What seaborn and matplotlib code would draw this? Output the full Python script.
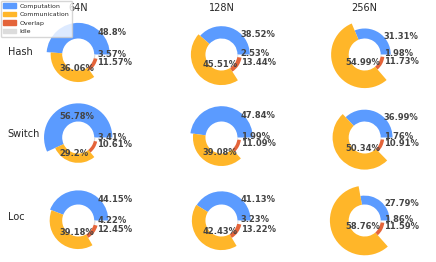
import numpy as np
import matplotlib
matplotlib.use("Agg")
import matplotlib.pyplot as plt
import seaborn as sns
from matplotlib.patches import Patch

# categories / colors
categories = ["Computation", "Communication", "Overlap", "Idle"]
colors = ["#5B9BFF", "#FFB629", "#E4643A", "#DCDCDC"]

strategies = ["Hash", "Switch", "Loc"]
scales = ["64N", "128N", "256N"]

# percentage breakdown per scale: computation, communication, overlap, idle
hash_vals = [[48.8, 36.06, 11.57, 3.57],
             [38.52, 45.51, 13.44, 2.53],
             [31.31, 54.99, 11.73, 1.98]]
switch_vals = [[56.78, 29.2, 10.61, 3.41],
               [47.84, 39.08, 11.09, 1.99],
               [36.99, 50.34, 10.91, 1.76]]
loc_vals = [[44.15, 39.18, 12.45, 4.22],
            [41.13, 42.43, 13.22, 3.23],
            [27.79, 58.76, 11.59, 1.86]]

sns.set_style("white")
plt.rcParams["font.family"] = ["DejaVu Sans"]

fig, axes = plt.subplots(3, 3, figsize=(4.36, 2.62), dpi=100)
fig.subplots_adjust(left=13.2 / 436, right=429.7 / 436,
                    top=1 - 16.5 / 262, bottom=1 - 258.5 / 262,
                    wspace=0.102, hspace=0.092)

hole = 0.5

for r, (name, rows) in enumerate(zip(strategies, [hash_vals, switch_vals, loc_vals])):
    for c, vals in enumerate(rows):
        ax = axes[r, c]
        # one ring per category, outer radius grows with the share
        for i, v in enumerate(vals):
            cols = ["none"] * len(vals)
            cols[i] = colors[i]
            ax.pie(vals, radius=hole + v / 100, colors=cols, startangle=0,
                   wedgeprops=dict(width=v / 100, linewidth=0))

        edges = np.cumsum([0] + vals)
        mids = np.deg2rad((edges[:-1] + edges[1:]) / 2 * 3.6)
        for v, m in zip(vals, mids):
            x = 0.6 if np.cos(m) >= 0 else -0.6
            ax.text(x, 0.6 * np.sin(m), f"{v}%", fontsize=6,
                    fontweight="bold", color="#444444")

        ax.set_xlim(-1.2, 1.2)
        ax.set_ylim(-1.1875, 1.1875)
        ax.set_aspect("equal", adjustable="datalim")

        if r == 0:
            ax.set_title(scales[c], fontsize=7, pad=4)
        if c == 0:
            ax.text(-2.2, 0, name, fontsize=7)

handles = [Patch(color=col, label=lab) for col, lab in zip(colors, categories)]
fig.legend(handles=handles, loc="upper left", bbox_to_anchor=(0, 1),
           fontsize=4.5, borderaxespad=0.15, handletextpad=0.6)

fig.savefig("out.png", dpi=100)
